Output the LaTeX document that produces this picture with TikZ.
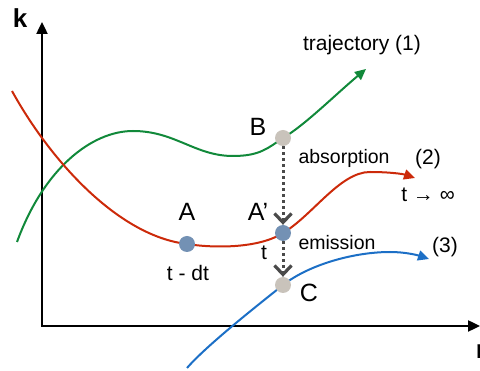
\documentclass[tikz,border=0pt]{standalone}
\usepackage{fontspec}
\setmainfont{Liberation Sans}
\usepackage{tikz}
\usetikzlibrary{arrows.meta}
\definecolor{trajG}{HTML}{11893A}
\definecolor{trajR}{HTML}{CC2A0A}
\definecolor{trajB}{HTML}{1C6FC6}
\definecolor{dotBlue}{HTML}{7391B4}
\definecolor{dotGrey}{HTML}{C9C3BB}
\definecolor{jumpK}{HTML}{4A4A4A}

\begin{document}
\begin{tikzpicture}[x=1pt, y=-1pt, font=\fontsize{21}{24}\selectfont,
  axis/.style={line width=2.4pt, {Triangle[length=12pt,width=11pt]}-{Triangle[length=12pt,width=11pt]}},
  traj/.style={line width=2pt, -{Triangle[length=11pt,width=10pt]}},
  state/.style={circle, inner sep=0pt, minimum size=16pt},
  jump/.style={jumpK, line width=3pt, dash pattern=on 3pt off 3pt,
    -{Straight Barb[length=9pt,width=17pt,line width=3.2pt]}},
  big/.style={font=\fontsize{25}{28}\selectfont},
  small/.style={font=\fontsize{19.5}{22}\selectfont, anchor=west}]
  \useasboundingbox (0,0) rectangle (480,371);
  % axes
  \coordinate (ytip) at (42,22);
  \coordinate (xtip) at (480,326);
  \draw[axis] (ytip) |- (xtip);
  \node[font=\fontsize{26}{28}\selectfont\bfseries] (klab) at (20,18) {k};
  \node[font=\fontsize{26}{28}\selectfont\bfseries] (rlab) at (481,351) {r};
  % points on the trajectories
  \coordinate (pB) at (283,138);
  \coordinate (pA) at (187,244);
  \coordinate (pAp) at (283,233);
  \coordinate (pC) at (283,285);
  % trajectory (1)
  \draw[traj, trajG] (17,242) .. controls (44,168) and (92,131) .. (133,131)
    .. controls (175,131) and (195,156) .. (233,156)
    .. controls (260,156) and (268,148) .. (pB)
    .. controls (305,125) and (335,95) .. (366,69);
  % trajectory (2)
  \draw[traj, trajR] (12,91) .. controls (50,160) and (118,236) .. (pA)
    .. controls (212,248) and (258,249) .. (pAp)
    .. controls (313,215) and (340,172) .. (370,172)
    .. controls (390,172) and (403,174) .. (415,178);
  % trajectory (3)
  \draw[traj, trajB] (187,368) .. controls (207,345) and (258,305) .. (pC)
    .. controls (310,264) and (355,252) .. (390,252)
    .. controls (405,252) and (417,255) .. (429,259);
  % states
  \node[state, fill=dotGrey] (B) at (pB) {};
  \node[state, fill=dotBlue] (A) at (pA) {};
  \node[state, fill=dotBlue] (Ap) at (pAp) {};
  \node[state, fill=dotGrey] (C) at (pC) {};
  % jumps
  \draw[jump] (B) -- (Ap);
  \draw[jump] (Ap) -- (C);
  % labels
  \node[big] (labB) at (258,127) {B};
  \node[big] (labA) at (187,212) {A};
  \node[big] (labAp) at (258,212) {A’};
  \node[big] (labC) at (309,293) {C};
  \node (labt) at (264,253) {t};
  \node (labdt) at (188,273) {t - dt};
  \node[small] (absn) at (295,158) {absorption};
  \node[small] (emsn) at (295,243) {emission};
  \node (tr1) at (362,45) {trajectory (1)};
  \node (tr2) at (428,159) {(2)};
  \node (tinf) at (428,195) {t → ∞};
  \node (tr3) at (445,247) {(3)};
\end{tikzpicture}
\end{document}
